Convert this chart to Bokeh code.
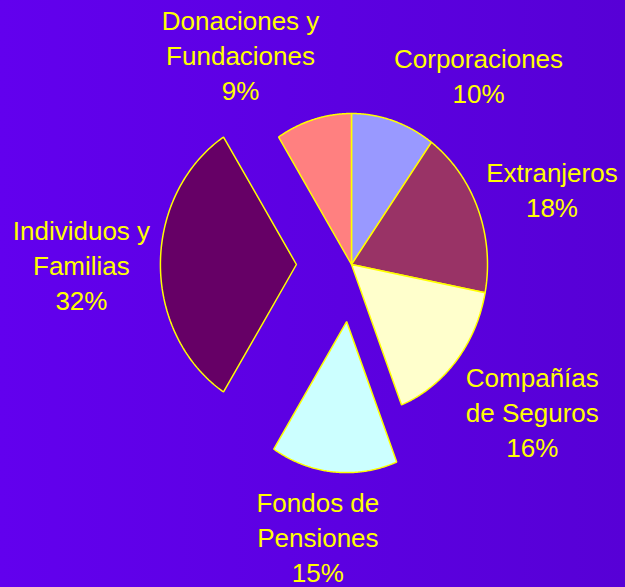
import numpy as np
from bokeh.plotting import figure
from bokeh.models import Range1d, ColumnDataSource
from bokeh.core.properties import value
from bokeh.embed import file_html
from bokeh.resources import INLINE

# ---- data ----
categories = ["Corporaciones", "Extranjeros", "Compañías de Seguros",
              "Fondos de Pensiones", "Individuos y Familias", "Donaciones y Fundaciones"]
shares = [10, 18, 16, 15, 32, 9]
label_lines = [["Corporaciones"], ["Extranjeros"], ["Compañías", "de Seguros"],
               ["Fondos de", "Pensiones"], ["Individuos y", "Familias"],
               ["Donaciones y", "Fundaciones"]]

# ---- style / layout ----
colors = ["#9999FF", "#993366", "#FFFFCC", "#CCFFFF", "#660066", "#FF8080"]
explode = [0.0, 0.0, 0.0, 0.38, 0.405, 0.0]
label_nudge = [(85, -44), (74, -18), (76, 52), (-16, 66), (-79, 1), (-73, -63)]
CX, CY, RX, RY = 351.0, 264.0, 136.0, 151.0
FONT = "Liberation Sans"
FSIZE = "26px"
LINE_GAP = 35.0
YELLOW = "#FFFF00"

W, H = 625, 587
p = figure(width=W, height=H, output_backend="svg", toolbar_location=None,
           x_range=Range1d(0, W), y_range=Range1d(H, 0),
           min_border=0, border_fill_alpha=0, background_fill_alpha=0,
           outline_line_color=None)
p.axis.visible = False
p.grid.visible = False

total = float(sum(shares))
fr = np.cumsum([0] + shares) / total * 2 * np.pi
xs, ys = [], []
lx, ly, lt = [], [], []
for i, s in enumerate(shares):
    a0, a1 = fr[i], fr[i + 1]
    mid = (a0 + a1) / 2
    ox = explode[i] * RX * np.sin(mid)
    oy = -explode[i] * RY * np.cos(mid)
    cx, cy = CX + ox, CY + oy
    t = np.linspace(a0, a1, 120)
    px = np.concatenate([[cx], cx + RX * np.sin(t)])
    py = np.concatenate([[cy], cy - RY * np.cos(t)])
    xs.append(list(px))
    ys.append(list(py))
    # label block
    ex, ey = cx + RX * np.sin(mid), cy - RY * np.cos(mid)
    bx, by = ex + label_nudge[i][0], ey + label_nudge[i][1]
    lines = label_lines[i] + [f"{s}%"]
    n = len(lines)
    for k, ln in enumerate(lines):
        lx.append(bx)
        ly.append(by + (k - (n - 1) / 2) * LINE_GAP)
        lt.append(ln)

p.patches(xs=xs, ys=ys, fill_color=colors, line_color=YELLOW, line_width=1.5)

src = ColumnDataSource(dict(x=lx, y=ly, text=lt))
p.text(x="x", y="y", text="text", source=src, text_font=value(FONT),
       text_font_size=FSIZE, text_color=YELLOW, text_align="center",
       text_baseline="middle")

html = file_html(p, INLINE)
style = ("<style>html,body{margin:0;padding:0;overflow:hidden;"
         "background:linear-gradient(to right,#6200EE,#5700D6);"
         "min-height:100%;}</style>")
html = html.replace("</head>", style + "</head>", 1)
open("out.html", "w").write(html)
